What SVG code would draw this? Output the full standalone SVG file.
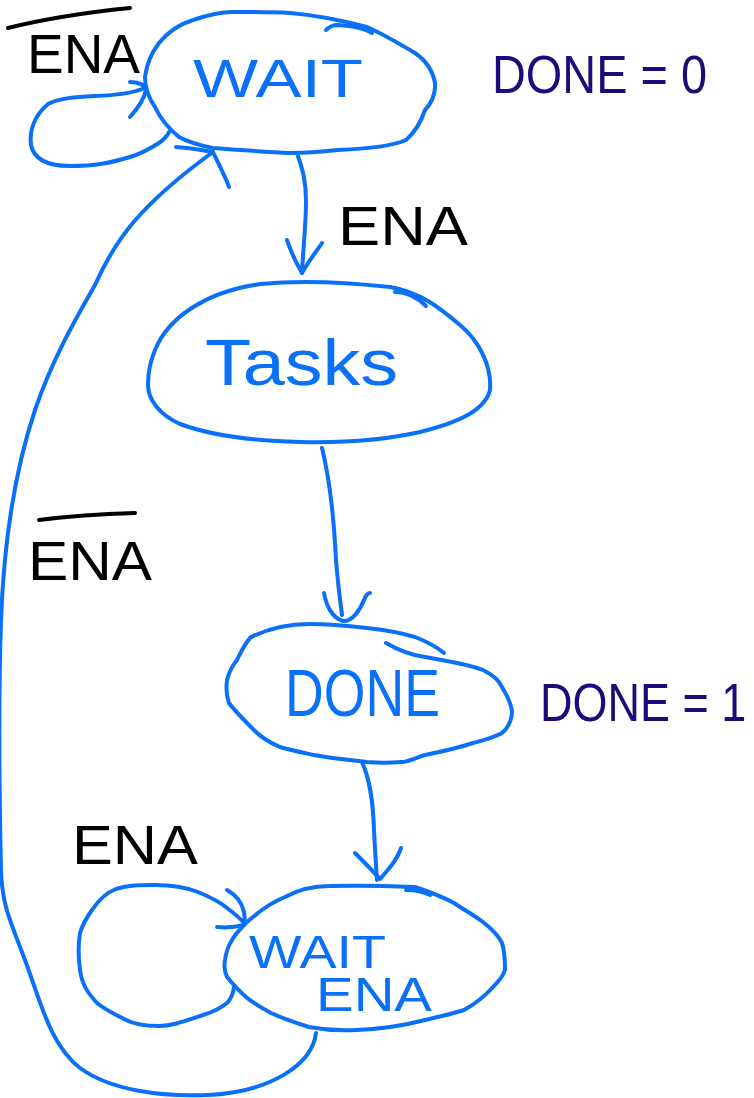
<svg xmlns="http://www.w3.org/2000/svg" width="754" height="1098" viewBox="0 0 754 1098">
<style>
.s{fill:none;stroke:#0a70f7;stroke-width:4;stroke-linecap:round;stroke-linejoin:round}
.k{fill:none;stroke:#000;stroke-width:4;stroke-linecap:round}
.t{font-family:"Liberation Sans",Arial,sans-serif;fill:#0a70f7}
.b{font-family:"Liberation Sans",Arial,sans-serif;fill:#000}
.n{font-family:"Liberation Sans",Arial,sans-serif;fill:#1c0b7a}
</style>
<rect width="754" height="1098" fill="#fff"/>
<g id="connectors">
  <!-- WAIT self loop -->
  <path class="s" d="M169,132 C166,138 162,141 159,143 C148,150 140,154 130,157 C110,163 95,166 70,166 C48,166 34,160 31,145 C29,130 35,115 48,104 C60,98 75,97 95,96 C115,95 130,94 145,88"/>
  <path class="s" d="M130,82 C138,82 146,85 146,90 C144,100 138,108 130,117"/>
  <!-- WAIT -> Tasks -->
  <path class="s" d="M298,156 C302,168 306,180 306,200 C306,225 303,250 302,273"/>
  <path class="s" d="M287,240 C292,255 298,266 302,273 C308,262 316,252 322,243"/>
  <!-- Tasks -> DONE -->
  <path class="s" d="M322,448 C330,480 334,520 336,560 C338,585 340,600 342,615"/>
  <path class="s" d="M324,593 C326,605 332,618 343,621 C352,622 360,610 364,600 C366,595 368,593 370,593"/>
  <!-- DONE -> WAIT ENA -->
  <path class="s" d="M362,762 C370,780 373,800 374,830 C375,850 376,865 377,880"/>
  <path class="s" d="M355,853 C364,862 372,870 380,879 C388,870 397,860 401,848"/>
  <!-- WAIT ENA self loop -->
  <path class="s" d="M234,987 C233,995 230,1000 227,1003 C218,1010 210,1013 203,1015 C185,1021 172,1026 159,1026 C145,1026 134,1024 126,1020 C112,1013 103,1008 97,1003 C88,993 82,985 80,970 C78,955 78,945 80,933 C83,923 87,917 92,910 C100,898 108,892 116,889 C128,885 140,885 155,885 C170,885 185,887 198,892 C210,897 220,902 227,908 C235,914 240,918 244,923"/>
  <path class="s" d="M227,890 C236,895 242,903 244,912 C245,918 245,922 244,925 C236,927 226,928 217,927"/>
  <!-- WAIT ENA -> WAIT (big return) -->
  <path class="s" d="M316,1033 C312,1065 270,1092 208,1095 C160,1097 110,1090 80,1068 C50,1045 40,1000 25,960 C10,920 2,905 1,870 C-1,780 -1,680 1,620 C4,540 15,470 35,410 C52,360 75,320 95,285 C115,240 140,205 213,152"/>
  <path class="s" d="M176,147 C190,148 202,150 213,152 C219,165 225,176 229,187"/>
</g>
<g id="node-wait">
  <path class="s" d="M145,77 C147,62 152,52 159,43 C168,32 180,24 193,20 C208,15 220,12 232,12 C255,12 272,12 290,13 C315,15 340,20 367,27 C385,35 400,44 415,53 C428,62 433,72 435,83 C436,95 430,105 425,110 C420,125 414,133 406,140 C390,147 365,149 338,150 C320,152 305,153 290,153 C265,152 240,150 213,148 C198,145 188,142 179,137 C168,128 160,118 155,107 C148,97 145,88 145,77 Z"/>
  <path class="s" d="M326,30 C330,26 334,25 338,25 C352,26 364,28 372,33"/>
  <text class="t" x="193" y="97" font-size="54" textLength="170" lengthAdjust="spacingAndGlyphs">WAIT</text>
</g>
<g id="node-tasks">
  <path class="s" d="M155,350 C168,318 205,292 260,284 C300,280 345,282 390,287 C420,292 440,308 460,325 C478,340 492,365 490,390 C485,410 460,422 420,432 C385,440 345,443 300,442 C255,441 210,435 180,424 C160,415 148,400 148,385 C148,372 150,362 155,350 Z"/>
  <path class="s" d="M395,292 C408,292 418,298 426,306"/>
  <text class="t" x="205" y="385" font-size="64" textLength="193" lengthAdjust="spacingAndGlyphs">Tasks</text>
</g>
<g id="node-done">
  <path class="s" d="M251,637 C270,628 290,624 309,624 C330,624 350,626 367,628 C385,630 402,633 415,637 C428,642 438,648 444,653"/>
  <path class="s" d="M386,643 C398,650 410,655 425,657 C445,661 465,663 483,670 C495,676 500,682 502,687 C508,697 512,705 512,713 C511,722 508,728 502,733 C493,738 484,740 473,743 C458,748 440,752 425,755 C415,758 408,762 401,762 C390,763 378,763 367,762 C350,760 330,758 314,755 C300,752 290,750 280,747 C268,742 258,735 251,727 C242,718 234,710 229,703 C226,695 226,688 227,680 C229,672 232,666 237,660 C241,652 245,643 251,637"/>
  <text class="t" x="285" y="716" font-size="66" textLength="155" lengthAdjust="spacingAndGlyphs">DONE</text>
</g>
<g id="node-waitena">
  <path class="s" d="M246,923 C258,912 270,903 285,897 C298,890 312,886 329,886 C360,885 390,886 415,887 C430,892 443,897 454,903 C466,911 475,916 483,922 C493,930 499,936 502,943 C505,952 505,962 505,970 C503,977 498,982 493,987 C485,996 475,1004 464,1010 C452,1014 438,1017 425,1020 C402,1026 380,1029 357,1030 C340,1031 325,1030 309,1027 C293,1022 282,1018 271,1013 C262,1008 253,1003 246,997 C238,990 232,983 227,977 C224,971 224,966 225,960 C226,953 228,946 232,940 C236,933 241,928 246,923 Z"/>
  <path class="s" d="M406,890 C415,890 424,892 430,895"/>
  <text class="t" x="249" y="968" font-size="46" textLength="137" lengthAdjust="spacingAndGlyphs">WAIT</text>
  <text class="t" x="316" y="1011" font-size="48" textLength="116" lengthAdjust="spacingAndGlyphs">ENA</text>
</g>
<g id="labels">
  <path class="k" d="M8,28 C40,20 90,12 130,8"/>
  <text class="b" x="27" y="73" font-size="56" textLength="113" lengthAdjust="spacingAndGlyphs">ENA</text>
  <text class="b" x="338" y="245" font-size="56" textLength="130" lengthAdjust="spacingAndGlyphs">ENA</text>
  <path class="k" d="M39,520 C70,516 100,514 135,513"/>
  <text class="b" x="28" y="580" font-size="56" textLength="124" lengthAdjust="spacingAndGlyphs">ENA</text>
  <text class="b" x="72" y="864" font-size="56" textLength="126" lengthAdjust="spacingAndGlyphs">ENA</text>
  <text class="n" x="492" y="93" font-size="54" textLength="215" lengthAdjust="spacingAndGlyphs">DONE = 0</text>
  <text class="n" transform="translate(540,721) scale(1,1.2)" x="0" y="0" font-size="45">DONE = 1</text>
</g>
</svg>
